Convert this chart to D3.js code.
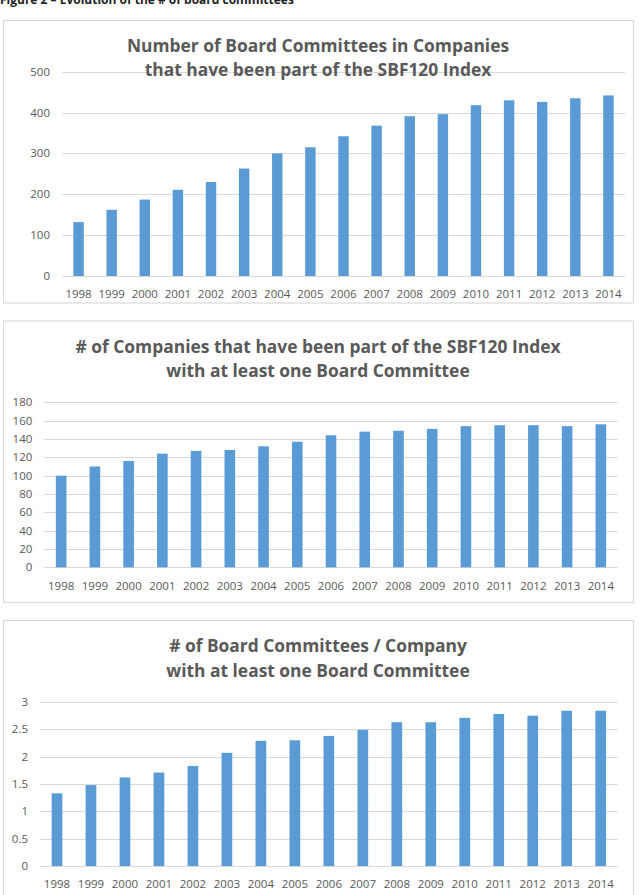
<!DOCTYPE html>
<html>
<head>
<meta charset="utf-8">
<script src="https://cdn.jsdelivr.net/npm/d3@7"></script>
<style>
  body { margin: 0; background: #fff; }
  svg { display: block; }
</style>
</head>
<body>
<div id="chart"></div>
<script>
// Data
const years = ["1998", "1999", "2000", "2001", "2002", "2003", "2004", "2005", "2006",
  "2007", "2008", "2009", "2010", "2011", "2012", "2013", "2014"];
const committees = [132, 162, 187, 211, 230, 263, 300, 315, 342, 368, 391, 396, 418, 430, 426, 435, 442];
const companies = [100, 110, 116, 124, 127, 128, 132, 137, 144, 148, 149, 151, 154, 155, 155, 154, 156];
const perCompany = [1.33, 1.48, 1.62, 1.71, 1.83, 2.07, 2.29, 2.30, 2.38, 2.49, 2.63, 2.63, 2.71, 2.78, 2.75, 2.84, 2.84];

const ticks1 = [0, 100, 200, 300, 400, 500];
const ticks2 = [0, 20, 40, 60, 80, 100, 120, 140, 160, 180];
const ticks3 = [0, 0.5, 1, 1.5, 2, 2.5, 3];

const titles1 = ["Number of Board Committees in Companies", "that have been part of the SBF120 Index"];
const titles2 = ["# of Companies that have been part of the SBF120 Index", "with at least one Board Committee"];
const titles3 = ["# of Board Committees / Company", "with at least one Board Committee"];

const W = 642, H = 895;
const barColor = "#5b9bd5";
const gridColor = "#d9d9d9";
const textColor = "#595959";

const svg = d3.select("#chart")
  .append("svg")
  .attr("width", W)
  .attr("height", H);

// Caption, cut off at the top of the page as in the source
svg.append("text")
  .attr("x", 0)
  .attr("y", 3.5)
  .style("font-family", "'Open Sans', sans-serif")
  .style("font-weight", "bold")
  .style("font-size", "12px")
  .style("fill", "#222")
  .text("Figure 2 \u2013 Evolution of the # of board committees");

function drawChart(opts) {
  const g = svg.append("g");

  // chart area frame
  g.append("rect")
    .attr("x", 3.5)
    .attr("y", opts.frameTop + 0.5)
    .attr("width", 630)
    .attr("height", opts.frameBottom - opts.frameTop)
    .style("fill", "#fff")
    .style("stroke", "#d9d9d9")
    .style("stroke-width", 1.2);

  const x = d3.scaleBand()
    .domain(years)
    .range([opts.left, opts.right])
    .paddingInner(0.685)
    .paddingOuter(0.3425);

  const y = d3.scaleLinear()
    .domain([0, opts.max])
    .range([opts.bottom, opts.top]);

  // gridlines
  g.append("g")
    .selectAll("line")
    .data(opts.ticks)
    .join("line")
    .attr("x1", opts.left)
    .attr("x2", opts.right)
    .attr("y1", d => Math.round(y(d)) + 0.5)
    .attr("y2", d => Math.round(y(d)) + 0.5)
    .style("stroke", gridColor)
    .style("stroke-width", 1);

  // y tick labels
  g.append("g")
    .selectAll("text")
    .data(opts.ticks)
    .join("text")
    .attr("x", opts.left - 12)
    .attr("y", d => y(d))
    .attr("dy", "0.35em")
    .style("text-anchor", "end")
    .style("font-family", "'Open Sans', sans-serif")
    .style("font-size", "11.5px")
    .style("fill", textColor)
    .text(d => d);

  // bars
  g.append("g")
    .selectAll("rect")
    .data(opts.values)
    .join("rect")
    .attr("x", (d, i) => x(years[i]))
    .attr("width", x.bandwidth())
    .attr("y", d => y(d))
    .attr("height", d => y(0) - y(d))
    .style("fill", barColor);

  // x labels
  g.append("g")
    .selectAll("text")
    .data(years)
    .join("text")
    .attr("x", d => x(d) + x.bandwidth() / 2)
    .attr("y", opts.labelY)
    .attr("dy", "0.35em")
    .style("text-anchor", "middle")
    .style("font-family", "'Open Sans', sans-serif")
    .style("font-size", "11.5px")
    .style("fill", textColor)
    .text(d => d);

  // title
  g.append("g")
    .selectAll("text")
    .data(opts.titles)
    .join("text")
    .attr("x", 318)
    .attr("y", (d, i) => opts.titleY[i])
    .attr("dy", "0.35em")
    .style("text-anchor", "middle")
    .style("font-family", "'Open Sans', sans-serif")
    .style("font-weight", "bold")
    .style("font-size", "17.4px")
    .style("fill", textColor)
    .text(d => d);
}

drawChart({
  values: committees, ticks: ticks1, titles: titles1, max: 500,
  frameTop: 20, frameBottom: 302.5,
  left: 62, right: 625, top: 71.7, bottom: 276,
  labelY: 294, titleY: [45.7, 70]
});

drawChart({
  values: companies, ticks: ticks2, titles: titles2, max: 180,
  frameTop: 320.5, frameBottom: 602,
  left: 44.3, right: 617.7, top: 402.3, bottom: 567.3,
  labelY: 585.7, titleY: [346.7, 371]
});

drawChart({
  values: perCompany, ticks: ticks3, titles: titles3, max: 3,
  frameTop: 620, frameBottom: 905,
  left: 40, right: 617.7, top: 702, bottom: 866,
  labelY: 883.7, titleY: [646.3, 671.3]
});
</script>
</body>
</html>
